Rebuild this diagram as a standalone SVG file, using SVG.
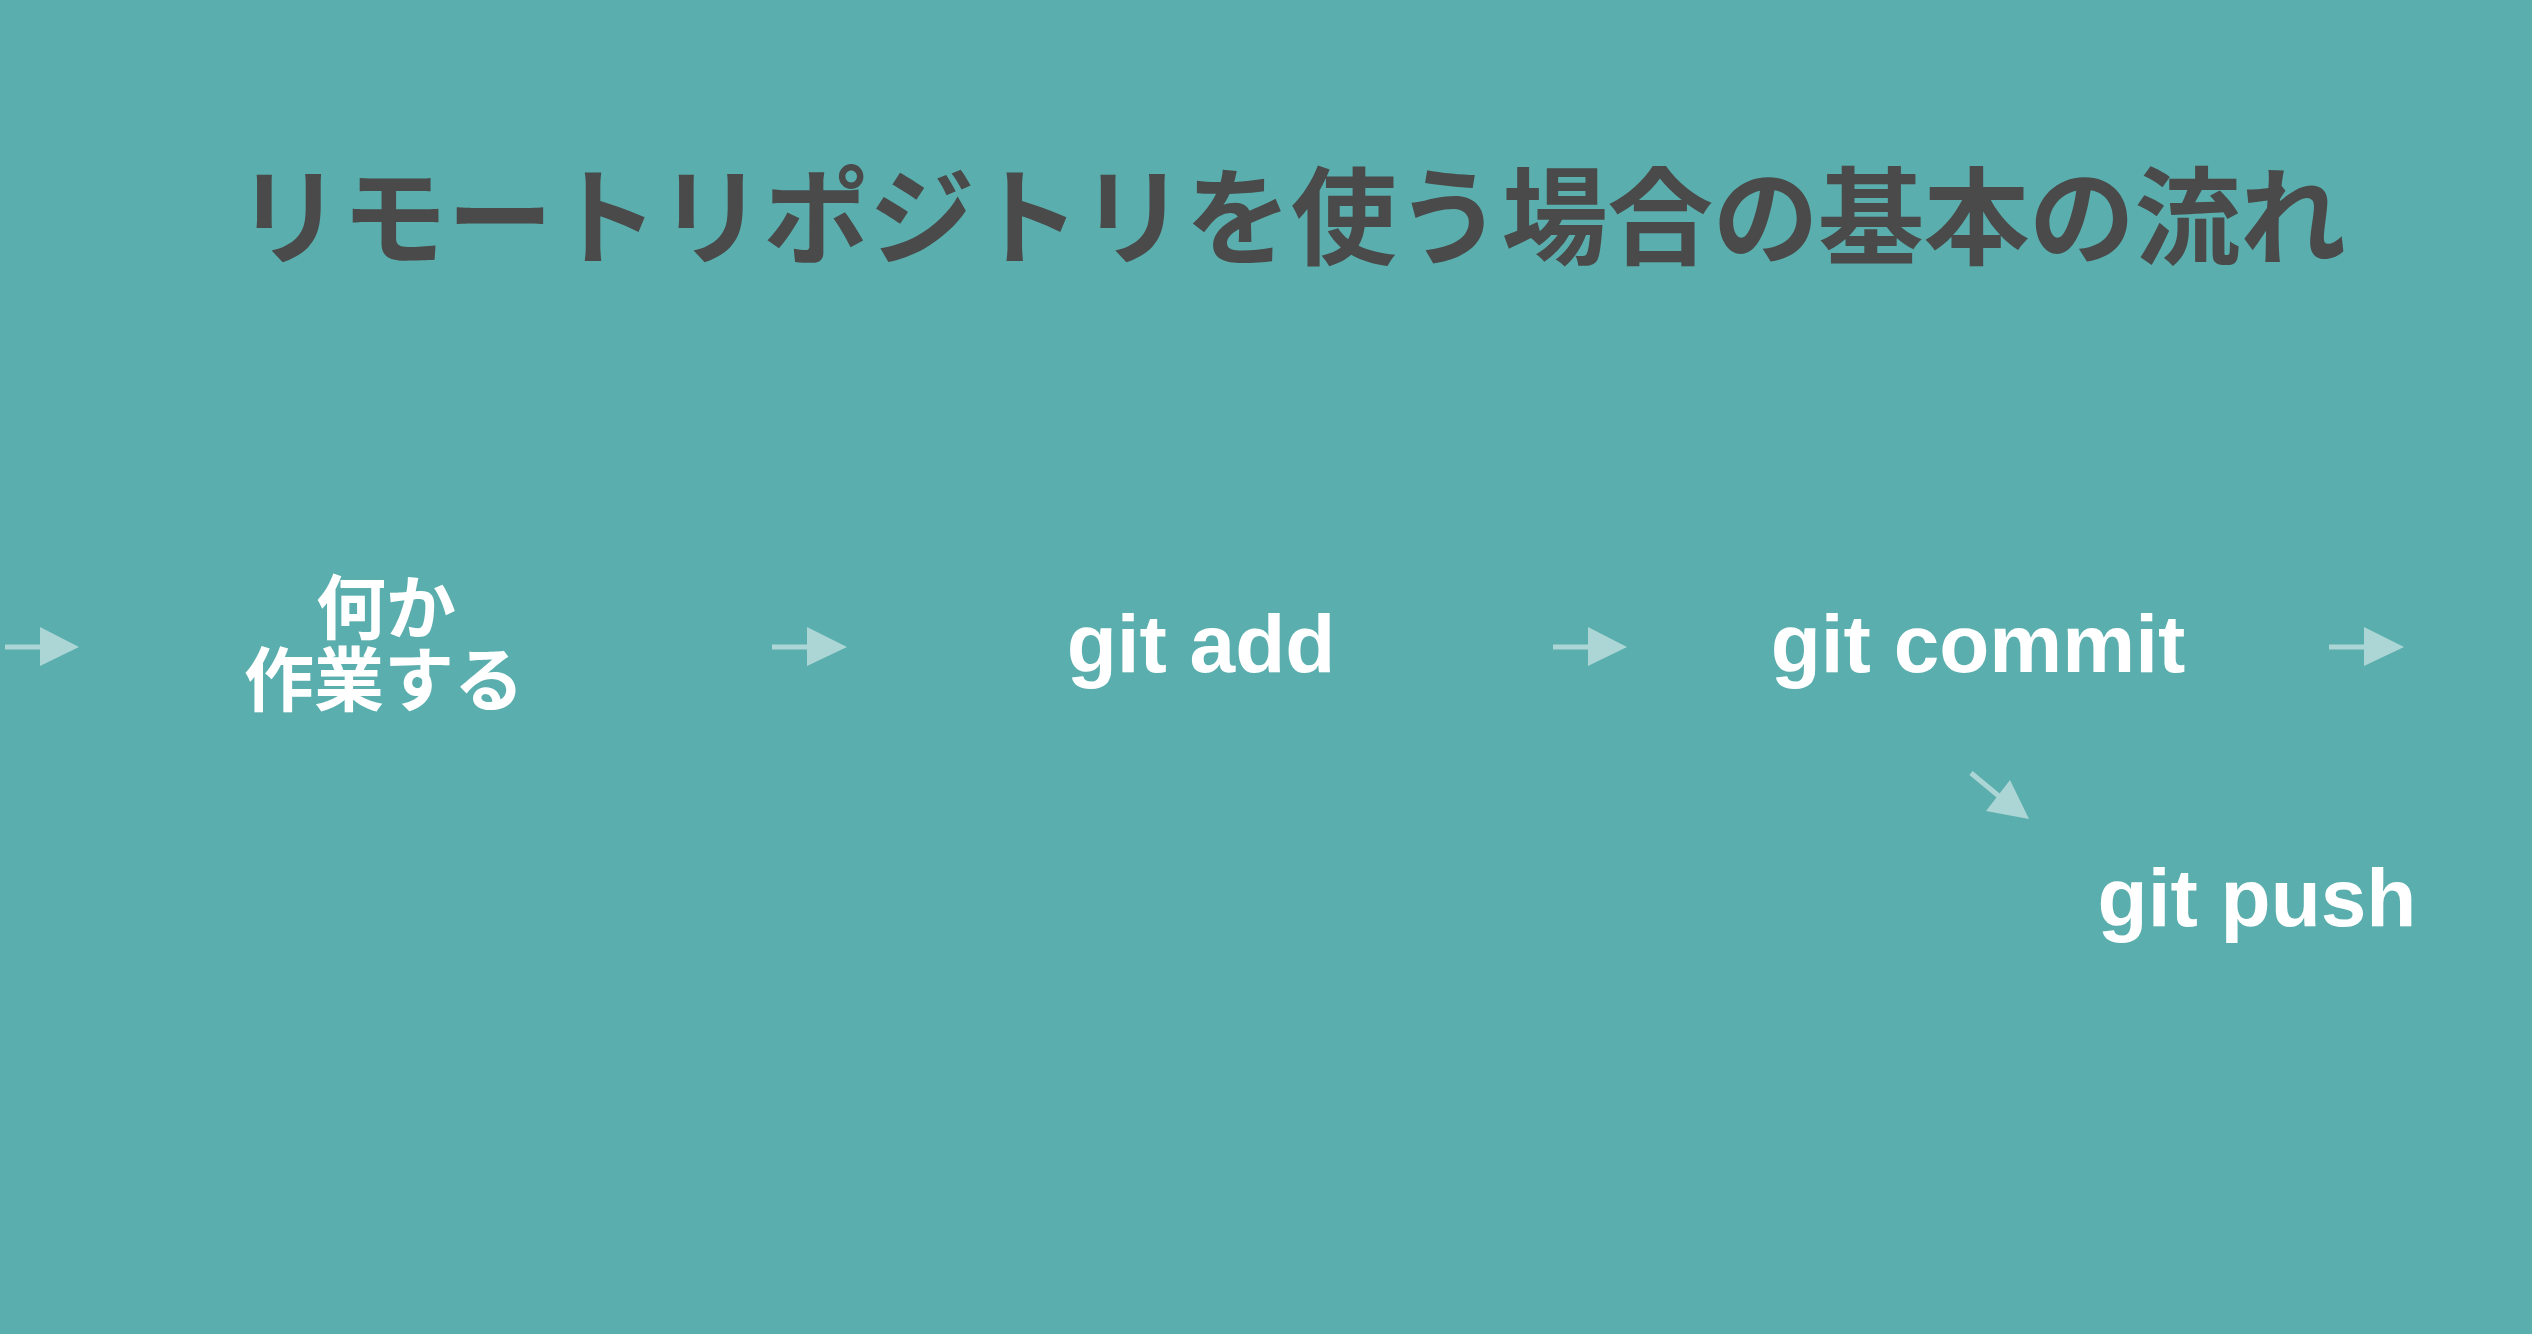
<svg xmlns="http://www.w3.org/2000/svg" width="2532" height="1334" viewBox="0 0 2532 1334">
<defs>
<style>
.title{font-family:"Noto Sans CJK JP","Noto Sans",sans-serif;font-weight:bold;font-size:106px;fill:#4a4a4a;text-anchor:middle}
.cjk{font-family:"Noto Sans CJK JP","Noto Sans",sans-serif;font-weight:bold;font-size:70px;fill:#ffffff;text-anchor:middle}
.lbl{font-family:"Liberation Sans",Arial,sans-serif;font-weight:bold;font-size:82px;fill:#ffffff;text-anchor:middle}
.line{stroke:#acd6d5;stroke-width:5;fill:none}
.head{fill:#acd6d5}
</style>
</defs>
<rect width="2532" height="1334" fill="#5aaead"/>
<g id="title"><text class="title" x="1291" y="256" textLength="2110" lengthAdjust="spacing">リモートリポジトリを使う場合の基本の流れ</text></g>
<g id="node-work"><text class="cjk"><tspan x="386" y="634">何か</tspan><tspan x="384" y="706">作業する</tspan></text></g>
<g id="node-add"><text class="lbl" x="1201" y="672">git add</text></g>
<g id="node-commit"><text class="lbl" x="1978" y="672">git commit</text></g>
<g id="node-push"><text class="lbl" x="2257" y="926">git push</text></g>
<g id="connectors">
<line class="line" x1="5" y1="647" x2="42" y2="647"/><polygon class="head" points="40,627 79,647 40,666"/>
<line class="line" x1="772" y1="647" x2="809" y2="647"/><polygon class="head" points="807,627 847,647 807,666"/>
<line class="line" x1="1553" y1="647" x2="1590" y2="647"/><polygon class="head" points="1588,627 1627,647 1588,666"/>
<line class="line" x1="2329" y1="647" x2="2366" y2="647"/><polygon class="head" points="2364,627 2404,647 2364,666"/>
<line class="line" x1="1971" y1="773" x2="2000" y2="797"/><polygon class="head" points="2010,780 1986,811 2029,819"/>
</g>
</svg>
